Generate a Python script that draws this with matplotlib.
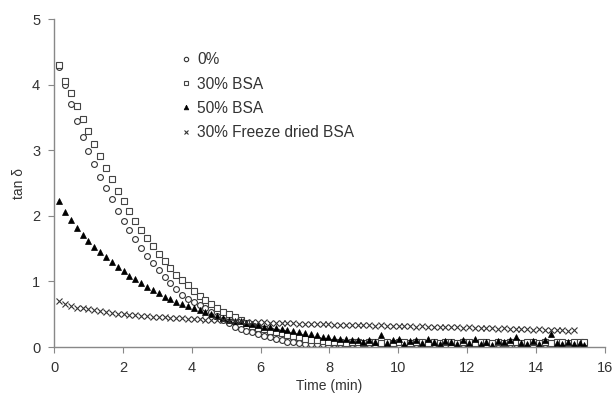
import matplotlib
matplotlib.use("Agg")
import matplotlib.pyplot as plt

plt.rcParams['font.family'] = ['Liberation Sans', 'DejaVu Sans']

# sampling times (min)
time = [0.15, 0.32, 0.49, 0.66, 0.83, 1.00, 1.17, 1.34, 1.51, 1.68,
        1.85, 2.02, 2.19, 2.36, 2.53, 2.70, 2.87, 3.04, 3.21, 3.38,
        3.55, 3.72, 3.89, 4.06, 4.23, 4.40, 4.57, 4.74, 4.91, 5.08,
        5.25, 5.42, 5.59, 5.76, 5.93, 6.10, 6.27, 6.44, 6.61, 6.78,
        6.95, 7.12, 7.29, 7.46, 7.63, 7.80, 7.97, 8.14, 8.31, 8.48,
        8.65, 8.82, 8.99, 9.16, 9.33, 9.50, 9.67, 9.84, 10.01, 10.18,
        10.35, 10.52, 10.69, 10.86, 11.03, 11.20, 11.37, 11.54, 11.71, 11.88,
        12.05, 12.22, 12.39, 12.56, 12.73, 12.90, 13.07, 13.24, 13.41, 13.58,
        13.75, 13.92, 14.09, 14.26, 14.43, 14.60, 14.77, 14.94, 15.11, 15.28,
        15.40]

tan_0 = [4.27, 4.00, 3.70, 3.45, 3.20, 2.99, 2.79, 2.60, 2.42, 2.25,
         2.07, 1.92, 1.78, 1.64, 1.51, 1.39, 1.28, 1.17, 1.07, 0.97,
         0.88, 0.80, 0.74, 0.69, 0.64, 0.59, 0.53, 0.47, 0.41, 0.36,
         0.31, 0.28, 0.25, 0.23, 0.20, 0.17, 0.15, 0.12, 0.10, 0.08,
         0.07, 0.06, 0.05, 0.05, 0.04, 0.04, 0.03, 0.05, 0.04, 0.03,
         0.05, 0.00, 0.04, 0.05, 0.03, 0.01, 0.04, 0.05, 0.03, 0.04,
         0.02, 0.05, 0.04, 0.03, 0.05, 0.04, 0.03, 0.02, 0.04, 0.05,
         0.03, 0.00, 0.04, 0.03, 0.05, 0.04, 0.03, 0.04, 0.05, 0.03,
         0.04, 0.02, 0.04, 0.05, 0.03, 0.04, 0.02, 0.04, 0.03, 0.04,
         0.03]

tan_30 = [4.30, 4.06, 3.87, 3.67, 3.48, 3.29, 3.09, 2.91, 2.73, 2.56,
          2.38, 2.22, 2.07, 1.92, 1.78, 1.66, 1.54, 1.42, 1.31, 1.21,
          1.10, 1.02, 0.94, 0.86, 0.78, 0.71, 0.65, 0.59, 0.54, 0.50,
          0.46, 0.41, 0.36, 0.32, 0.29, 0.27, 0.25, 0.23, 0.21, 0.19,
          0.17, 0.15, 0.13, 0.11, 0.10, 0.09, 0.08, 0.07, 0.08, 0.06,
          0.07, 0.08, 0.06, 0.07, 0.08, 0.06, 0.07, 0.06, 0.08, 0.07,
          0.06, 0.07, 0.08, 0.06, 0.07, 0.06, 0.08, 0.07, 0.06, 0.07,
          0.08, 0.06, 0.07, 0.08, 0.06, 0.07, 0.06, 0.08, 0.07, 0.06,
          0.07, 0.08, 0.06, 0.07, 0.06, 0.08, 0.07, 0.06, 0.07, 0.08,
          0.07]

tan_50 = [2.22, 2.06, 1.93, 1.81, 1.71, 1.62, 1.53, 1.45, 1.38, 1.30,
          1.22, 1.16, 1.09, 1.03, 0.97, 0.92, 0.87, 0.82, 0.77, 0.73,
          0.69, 0.66, 0.62, 0.59, 0.56, 0.53, 0.50, 0.47, 0.44, 0.42,
          0.40, 0.39, 0.36, 0.35, 0.33, 0.31, 0.30, 0.29, 0.27, 0.26,
          0.25, 0.23, 0.22, 0.20, 0.18, 0.16, 0.15, 0.14, 0.12, 0.12,
          0.11, 0.10, 0.08, 0.11, 0.07, 0.19, 0.06, 0.10, 0.12, 0.05,
          0.09, 0.11, 0.06, 0.12, 0.08, 0.05, 0.09, 0.07, 0.04, 0.10,
          0.06, 0.12, 0.05, 0.08, 0.03, 0.09, 0.07, 0.11, 0.15, 0.06,
          0.04, 0.09, 0.05, 0.10, 0.20, 0.06, 0.04, 0.08, 0.05, 0.06,
          0.03]

tan_fd = [0.70, 0.65, 0.62, 0.60, 0.59, 0.575, 0.56, 0.55, 0.53, 0.52,
          0.51, 0.50, 0.495, 0.49, 0.48, 0.47, 0.465, 0.46, 0.455, 0.45,
          0.445, 0.44, 0.435, 0.43, 0.425, 0.42, 0.415, 0.41, 0.405, 0.40,
          0.395, 0.39, 0.385, 0.38, 0.38, 0.375, 0.37, 0.37, 0.365, 0.36,
          0.36, 0.355, 0.355, 0.35, 0.35, 0.345, 0.35, 0.34, 0.34, 0.335,
          0.34, 0.33, 0.335, 0.33, 0.325, 0.33, 0.32, 0.325, 0.32, 0.315,
          0.32, 0.31, 0.315, 0.31, 0.305, 0.31, 0.30, 0.305, 0.30, 0.295,
          0.30, 0.29, 0.295, 0.285, 0.29, 0.28, 0.285, 0.275, 0.28, 0.27,
          0.275, 0.265, 0.27, 0.26, 0.265, 0.255, 0.26, 0.25, 0.255]

labels = ['0%', '30% BSA', '50% BSA', '30% Freeze dried BSA']

fig = plt.figure(figsize=(6.14, 3.98), dpi=100)
ax = fig.add_axes([0.088, 0.128, 0.897, 0.824])

ax.plot(time, tan_0, 'o', ms=4.2, mfc='white', mec='#333333', mew=0.8, label=labels[0])
ax.plot(time, tan_30, 's', ms=4.2, mfc='white', mec='#444444', mew=0.8, label=labels[1])
ax.plot(time, tan_50, '^', ms=4.5, mfc='black', mec='black', mew=0.5, label=labels[2])
ax.plot(time[:len(tan_fd)], tan_fd, 'x', ms=4, mec='#333333', mew=0.8, label=labels[3])

ax.set_xlim(0, 16)
ax.set_ylim(0, 5)
ax.set_xticks(range(0, 17, 2))
ax.set_yticks(range(0, 6))

for s in ['top', 'right']:
    ax.spines[s].set_visible(False)
for s in ['left', 'bottom']:
    ax.spines[s].set_color('#888888')
    ax.spines[s].set_linewidth(1.0)
ax.tick_params(direction='out', length=4, color='#888888', labelsize=10.5,
               labelcolor='#333333', pad=6)

ax.set_xlabel('Time (min)', fontsize=10, color='#333333', labelpad=3)
ax.set_ylabel('tan δ', fontsize=10, color='#333333', labelpad=4)

ax.legend(loc='upper left', bbox_to_anchor=(0.219, 0.918), frameon=False,
          fontsize=11.2, handlelength=0.6, handletextpad=0.45, markerscale=0.75,
          labelspacing=0.6, borderaxespad=0, labelcolor='#333333')

fig.savefig('out.png', dpi=100)
